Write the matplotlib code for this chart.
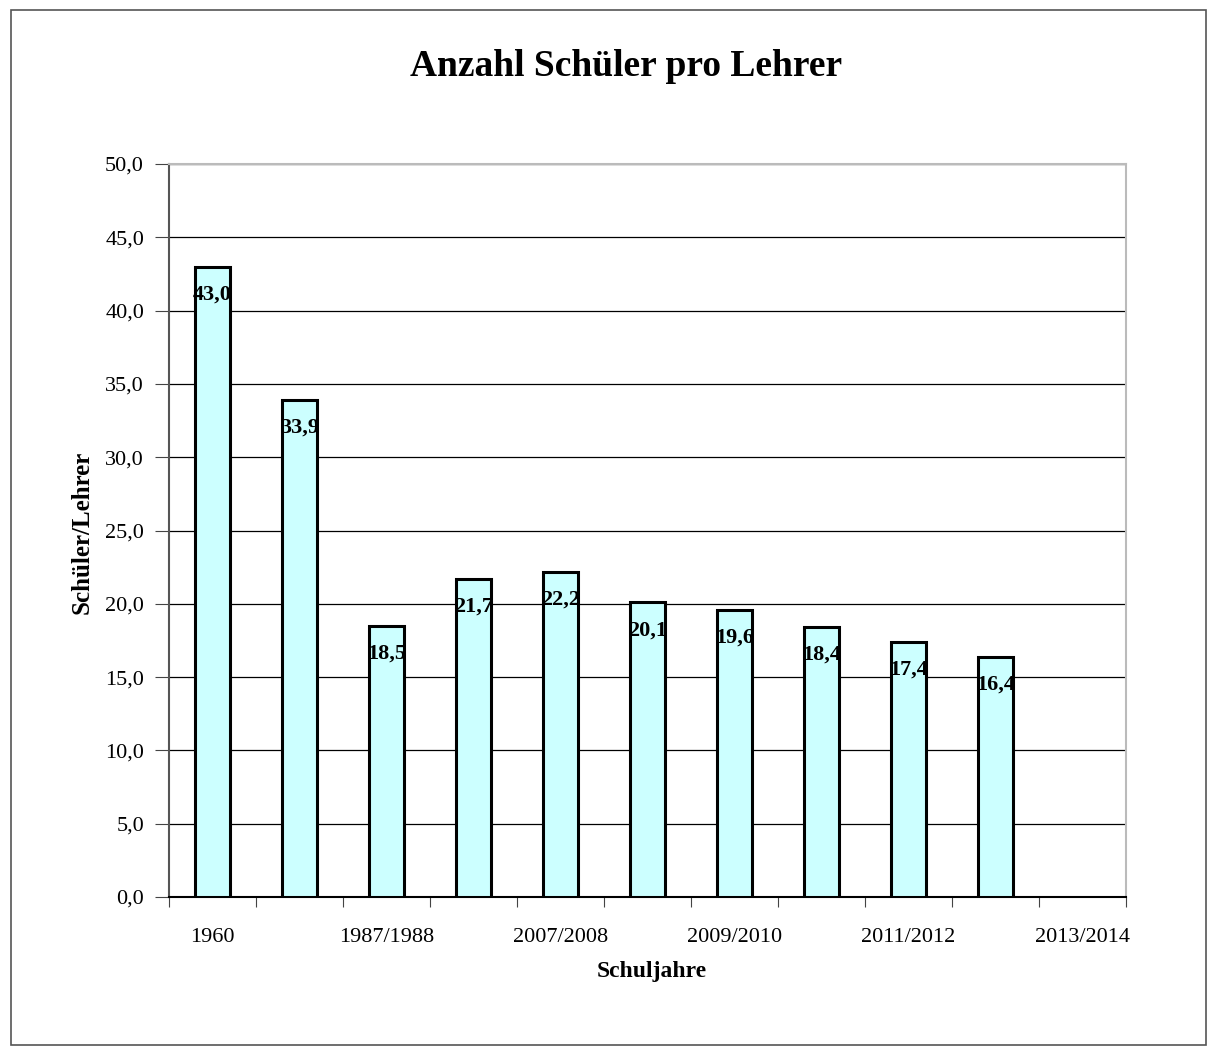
import matplotlib
matplotlib.use("Agg")
import matplotlib.pyplot as plt
from matplotlib.patches import Rectangle

categories = ["1960", "1970", "1987/1988", "2000/2001", "2007/2008", "2008/2009",
              "2009/2010", "2010/2011", "2011/2012", "2012/2013", "2013/2014"]
values = [43.0, 33.9, 18.5, 21.7, 22.2, 20.1, 19.6, 18.4, 17.4, 16.4, None]
value_labels = ["43,0", "33,9", "18,5", "21,7", "22,2", "20,1", "19,6", "18,4", "17,4", "16,4", ""]
yticks = [0, 5, 10, 15, 20, 25, 30, 35, 40, 45, 50]
ytick_labels = ["0,0", "5,0", "10,0", "15,0", "20,0", "25,0", "30,0", "35,0", "40,0", "45,0", "50,0"]

plt.rcParams['font.family'] = ['Liberation Serif', 'DejaVu Serif']

fig = plt.figure(figsize=(12.08, 10.47), dpi=100)
fig.patches.append(Rectangle((11/1208, 2/1047), 1195/1208, 1035/1047, transform=fig.transFigure,
                             fill=False, edgecolor='#555555', linewidth=1.2))
ax = fig.add_axes([169/1208, 1 - 897/1047, 957/1208, 733/1047])

xs = list(range(len(categories)))
for x, v, lab in zip(xs, values, value_labels):
    if v is None:
        continue
    ax.bar(x, v, width=0.4, color='#CCFFFF', edgecolor='black', linewidth=2.2, zorder=3)
    ax.annotate(lab, (x, v), xytext=(0, -20), textcoords='offset points',
                ha='center', va='center', fontsize=16, fontweight='bold', zorder=4)

ax.set_xlim(-0.5, len(categories) - 0.5)
ax.set_ylim(0, 50)
ax.set_yticks(yticks)
ax.set_yticklabels(ytick_labels, fontsize=16)
ax.yaxis.grid(True, color='black', linewidth=0.9, zorder=0)
ax.set_axisbelow(True)

ax.set_xticks([x + 0.5 for x in range(-1, len(categories))])
ax.set_xticklabels([])
ax.set_xticks(xs[::2], minor=True)
ax.set_xticklabels(categories[::2], minor=True, fontsize=16)
ax.tick_params(axis='x', which='minor', length=0, pad=22)
ax.tick_params(axis='x', which='major', length=7, direction='out', color='#444444')
ax.tick_params(axis='y', length=10, direction='out', color='#444444', pad=8)

for s in ['top', 'right']:
    ax.spines[s].set_color('#BBBBBB')
    ax.spines[s].set_linewidth(1.5)
ax.spines['left'].set_color('#555555')
ax.spines['left'].set_linewidth(1.5)
ax.spines['bottom'].set_color('black')
ax.spines['bottom'].set_linewidth(1.5)

fig.text(652/1208, 1 - 971/1047, "Schuljahre", ha='center', va='center',
         fontsize=17, fontweight='bold')
fig.text(82/1208, 1 - 532/1047, "Schüler/Lehrer", ha='center', va='center',
         rotation=90, fontsize=18, fontweight='bold')
fig.text(626/1208, 1 - 66/1047, "Anzahl Schüler pro Lehrer", ha='center', va='center',
         fontsize=27, fontweight='bold')

fig.savefig("out.png", dpi=100)
